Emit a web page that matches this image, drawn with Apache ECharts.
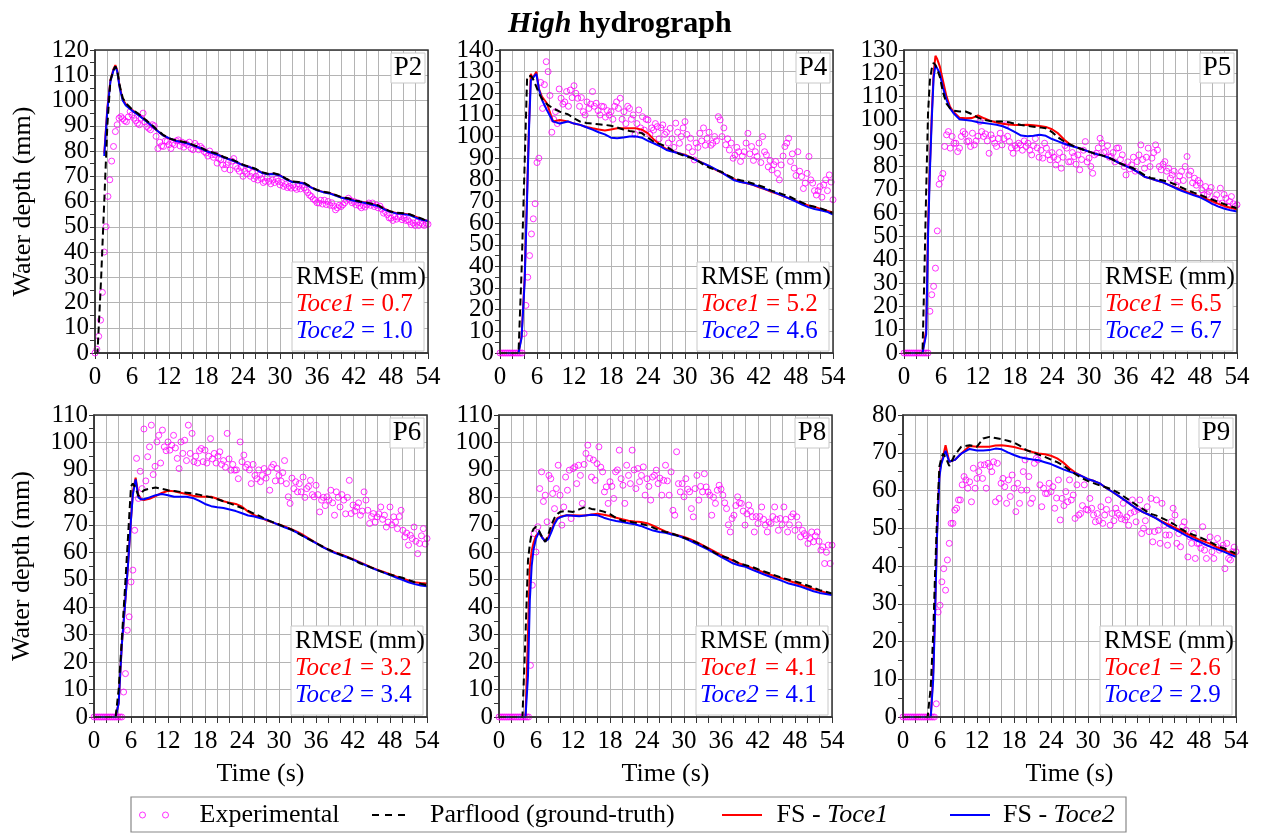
<!DOCTYPE html>
<html><head><meta charset="utf-8">
<script src="https://cdn.jsdelivr.net/npm/echarts@6/dist/echarts.min.js"></script>
<style>html,body{margin:0;padding:0;background:#fff}#c{width:1261px;height:834px}</style>
</head><body><div id="c"></div>
<script>
// ---------- DATA ----------
const panelLabels = ['P2','P4','P5','P6','P8','P9'];
const yMaxes = [120,140,130,110,110,80];
const yTickStep = 10;
const rmseToce1 = ['0.7','5.2','6.5','3.2','4.1','2.6'];
const rmseToce2 = ['1.0','4.6','6.7','3.4','4.1','2.9'];

// sampling times of the experimental gauges (s)
const expTime = [0,0.3,0.6,0.9,1.2,1.5,1.8,2.1,2.4,2.7,3,3.3,3.6,3.9,4.2,4.5,4.8,5.1,5.4,5.7,6,6.3,6.6,6.9,7.2,7.5,7.8,8.1,8.4,8.7,9,9.3,9.6,9.9,10.2,10.5,10.8,11.1,11.4,11.7,12,12.3,12.6,12.9,13.2,13.5,13.8,14.1,14.4,14.7,15,15.3,15.6,15.9,16.2,16.5,16.8,17.1,17.4,17.7,18,18.3,18.6,18.9,19.2,19.5,19.8,20.1,20.4,20.7,21,21.3,21.6,21.9,22.2,22.5,22.8,23.1,23.4,23.7,24,24.3,24.6,24.9,25.2,25.5,25.8,26.1,26.4,26.7,27,27.3,27.6,27.9,28.2,28.5,28.8,29.1,29.4,29.7,30,30.3,30.6,30.9,31.2,31.5,31.8,32.1,32.4,32.7,33,33.3,33.6,33.9,34.2,34.5,34.8,35.1,35.4,35.7,36,36.3,36.6,36.9,37.2,37.5,37.8,38.1,38.4,38.7,39,39.3,39.6,39.9,40.2,40.5,40.8,41.1,41.4,41.7,42,42.3,42.6,42.9,43.2,43.5,43.8,44.1,44.4,44.7,45,45.3,45.6,45.9,46.2,46.5,46.8,47.1,47.4,47.7,48,48.3,48.6,48.9,49.2,49.5,49.8,50.1,50.4,50.7,51,51.3,51.6,51.9,52.2,52.5,52.8,53.1,53.4,53.7,54];

const expP2 = [0,1.5,6.6,13,24,40,50,62,68.6,76,
81.8,87.7,90.4,93,93.6,92.8,92,91.6,93.5,95.6,
94.3,93,92,91,90.4,93,95,91.5,89.7,89,
88.4,90.4,90,85.8,81,83.5,82,81.8,84,83.8,
82.5,81,83,82.5,84,84.4,82,83.5,81.5,83,
82.4,83.5,81,80.5,83,82,80.5,81.8,81,79.8,
79.2,78,80,78.5,77.5,78.5,75.2,77,76.5,74.5,
73,74.5,75.5,72.5,76,77,74,73,72,73.5,
70,72,71,73,70,71.5,69,70,68.5,70.5,
69,67.5,68,69.5,68,67,68.5,67.5,69,68,
66.6,67.5,66,66.8,65.5,66,65.3,66.5,65.5,64.8,
66,65,66.5,65.5,64.5,63.5,62.5,62,61,60.5,
59.5,59.4,60.5,59,60.5,58.8,60,58.5,59.5,58.2,
56.7,57.5,58.5,58,58.7,59.5,60.5,61.3,60.5,59.5,
60,58.7,59.5,58.2,57.5,58.5,57.8,58.8,59.4,58.5,
59.4,58,58.6,57.5,58.2,57,55.4,56,54.8,53.5,
53.4,52.5,54,53,53.8,54,52.8,53.5,52.5,52.8,
52,50.8,51.5,50.5,51.8,50.5,51.5,51,50.5,51.5,
51];
const expP4 = [0,0,0,0,0,0,0,0,0,0,
0,0,0,9,22,35,45,55,62,69,
88,90,125,113,124,134.6,130,119,102,108,
111.5,106,122,117.7,115,116,120.8,114,121.5,118,
123.5,120,117.7,114,118,111.5,110,116,113,115,
120.8,114,115.4,112,110,114,113.8,109,112,110,
111.5,108,114,116,113,117.7,108,111.5,106,114,
113,108,110,101,106,112.3,104,109.2,103,108,
107.7,101,104,103,106,104.6,99,104,105.4,101,
102,97,103.8,99,95,106.2,102,96.9,100,104,
106.9,101,95,99.2,93,89.2,97,95,101.5,98,
104,96,99.2,102,96,96.9,100,98,109.2,107.7,
100,104,96.2,99,93.8,97,90,91.5,95,93,
88.5,91,93,97,101.5,92,95.4,89,93,90.8,
97,88,100,93,91.5,86,89,84.6,87,88.5,
83,80,86.9,91,95.4,97,99.2,88.5,92,85.4,
82,93,84,81.5,76,78.5,83,90.8,80,78.5,
75,73,75,76.9,72,77.7,80,75,82.3,79,
70.8];
const expP5 = [0,0,0,0,0,0,0,0,0,0,
0,0,0,0,17.9,25,28.6,36.4,52.4,72.4,
75,77,88.6,93.6,95,87.9,92.9,90,90,86.4,
87.9,92.9,95,94,90.7,91,88.6,94.3,89.3,91,
93,99.3,95,92.9,94,91,85.7,93.6,92,90,
88.6,92,94.3,89.3,92,97.9,93,90.7,88,85.7,
89,87.9,90,89.3,87,91,88.6,90,87,85,
89,92,88,84,87,83.6,90,87.9,85,82.9,
86,84,80.7,83,86,79.3,84,89,87.9,82,
82.1,86,84.3,81,85,78.6,83,87,90.7,82,
83.6,80,77.1,85,85.7,88,92.1,90,86,86.4,
89,84,84.3,86,82,87.9,88,83,85,80,
76.4,82,79,80.7,84,78,82.1,85,89.3,83,
79.3,84,87.9,80,83.6,86,89.3,87.1,80,78.6,
81,82.1,78,79.3,75,76.4,78,72,73.6,76,
77.9,74,80,84.3,76.4,78,73,75,72,74,
72.9,70,67.9,71.4,68,69.3,71,65,66,67.9,
64,70.7,64.3,68,66.4,63,65,67.1,64,62.9,
63.6];
const expP6 = [0,0,0,0,0,0,0,0,0,0,
0,0,0,0,0,0,9.1,15.8,31.6,36.5,
49.2,53.5,68,94.2,79.6,89.5,83.2,104.9,86,94.8,
98.4,106.3,88.3,91.3,100.2,102.6,92.5,104.5,98.4,97,
100.2,97.2,99,102.6,98,94.2,90.5,100.2,96,100.8,
93.4,106.3,96,103.3,93,95,92.5,97,97.8,93,
97.2,92.5,95,101.4,94,96,92.5,95,96.6,92,
93.4,91,103.3,94,89.9,92,89.9,90,86.8,100.2,
93,95.4,91,92,90,85,92,88,86.8,90,
85.7,88,90.5,87,89.3,82.6,91,92,86,90.5,
88,86,89,93.4,85,80.2,77.8,87,83.2,85.7,
82,85,82,87.4,80,83.2,84,86.2,81,80.2,
84.4,81,74.7,79,80,77,80.2,79,82.6,78,
73.5,82,80,76.5,81,79,74,80,86.2,74.1,
77.2,75,76.5,78,73.5,75,82,79,75.3,70.5,
73,74.1,71,72.9,74,76.5,72,73.5,69.2,71,
76.5,70,72.9,71,68.6,73,75.3,68,65.6,67,
62.6,66.2,65,69.2,64,59.5,63.2,66,68.6,63,
65];
const expP8 = [0,0,0,0,0,0,0,0,0,0,
0,0,0,0,0,0,0,18.8,48,66.8,
60.1,69.3,83.2,89.3,78.5,80.8,71.1,88,86.8,81.4,
75.9,83.2,91.7,80.8,69.9,76.5,87.4,82.6,89.9,72.3,
90.5,91.1,85,91.7,88,77.8,92,96,99,94.2,
87.4,93.6,86.2,92.3,98.4,91,89.3,82,83.8,77.8,
85.7,84,79.6,89.3,90,97.2,86.8,84.4,77.8,91.7,
88,85,97.2,90,83.2,90.5,85.7,88,91.1,80.8,
86.8,84,79,87.4,88,89.9,85,87,80.8,86.2,
91.7,86,80.8,89.3,75.3,73.5,96.6,85,82,85,
80.2,86.8,83,82,75.9,72.9,83.2,88,79,84,
82,88.6,83.8,82,80.8,73.5,80,77.8,82.6,84.4,
83,80.8,78,75.9,70,67.4,72.3,73.5,77,80.2,
78,77.8,75,69.9,74,77.2,75,72.9,67.4,73,
70.5,73,76.5,72,69.9,67.4,71,70.5,73,76.5,
72,68,72.3,70,76.5,72,67.4,70,72.9,74,
68,72.9,70,65.6,68,66.8,66,63.2,65,67.4,
63.8,66,67.4,64,60.8,62,55.9,60,62.6,55.9,
62.6];
const expP9 = [0,0,0,0,0,0,0,0,0,0,
0,0,0,0,0,0,0,0,3.5,27.8,
29.6,35.8,39.3,33.6,41.6,46,51.3,51.3,54.8,55.3,
57.5,57.5,61.5,63.7,62.8,60.6,62.3,57,65.9,60.6,
63.2,65,66.8,63.2,66.8,60.6,67.2,66.3,65,67.6,
57,67.2,57.9,61.9,63.2,61,56.6,62.8,58.4,64.1,
60.6,54.4,61.9,56.6,60.1,65,68.1,60.1,63.7,56.6,
57.9,67.2,68.5,68.1,61.5,55.7,60.6,59.2,59.2,61.9,
59.7,61,55.3,58,62.8,52.2,57.9,56,59.7,57,
62.8,57.5,58.8,52.6,61.5,53.5,53.9,56,61.5,55,
54.8,57.9,55.3,53.5,51.7,53.9,52,55.7,51.3,53.5,
55,57.5,50.8,53.9,52,55.3,54,53.5,52.5,56.6,
52.2,53,50.8,54,57.5,54.4,51.7,55,57.5,48.6,
50,52,55.7,49.1,57.9,46.4,49.1,57.5,49.5,46,
56.6,50.8,48.2,45.5,48.2,51.7,55.3,53.5,46,48.6,
45.1,50.4,51.7,49.5,42.4,47.7,46,48.6,42,46,
46,44.7,50.4,44.2,42,46,47.7,43.8,42,45.5,
47.3,44.2,44.7,45.5,39.3,46,42,41.6,43.8,45,
43.8];

// model output times and depths (mm)
const timeP2 = [0,0.4,0.7,1,1.5,2,2.5,3,3.3,3.6,4,4.5,5,6,7,8,9,10,11,12,13,14,15,16,17,18,19,20,21,22,23,24,25,26,27,28,29,30,31,32,33,34,35,36,37,38,39,40,41,42,43,44,45,46,47,48,49,50,51,52,53,54];
const parP2 = [0,0,15,30,60,90,108,112,113.5,112,106,101,99,96.5,94.8,92.8,90.8,88.5,86.5,85,84.3,83.8,83.3,82.3,81.5,80.3,79.5,78.8,77.5,76.8,75.8,74.6,73.8,73,71.7,71,71.2,70.6,69,67.9,67.7,67.3,65.8,64.6,63.9,63.5,62.6,61.7,61.3,60.5,60,59.6,59,58.4,57,56,55.5,55.3,55,54,53.2,52];
const toce1P2 = [null,null,null,null,79,97,108,112.5,114,112,105.5,100.5,98.5,96.3,94.5,92.5,90.5,88.2,86.3,85,84.2,83.8,83.1,82.2,81.2,80.1,79.3,78.6,77.4,76.6,75.6,74.4,73.6,72.8,71.5,70.9,71,70.4,68.9,67.8,67.6,67.1,65.7,64.5,63.8,63.4,62.5,61.6,61.2,60.4,59.9,59.5,58.9,58.3,57,56,55.4,55.2,54.9,54,53,52.2];
const toce2P2 = [null,null,null,null,78,96,107.5,112,113.5,111.5,105,100,98,96,94.3,92.4,90.4,88.2,86.2,85.1,84.1,83.6,83,82.1,81.2,80,79.2,78.4,77.3,76.5,75.5,74.3,73.6,72.8,71.4,70.8,70.9,70.3,68.8,67.7,67.5,67,65.6,64.4,63.7,63.2,62.4,61.5,61,60.3,59.8,59.3,58.7,58.1,56.8,55.8,55.2,55,54.6,53.6,52.8,52.3];

const timeP4 = [0,1,2,3,3.5,4,4.4,4.7,5,5.3,5.6,5.9,6.3,6.8,7.6,8.6,9.7,11,12,13,14,15,16,17,18,19,20,21,22,23,24,25,26,27,28,29,30,31,32,33,34,35,36,37,38,39,40,41,42,43,44,45,46,47,48,49,50,51,52,53,54];
const parP4 = [0,0,0,0,38,88,127.7,128,128,127,125,123,120,117.5,115,113,111.5,110.3,108.5,106.9,106.3,106,105.7,105.4,105,104.2,103.3,102.6,102.2,101.6,99.5,97.5,96.5,95.4,93.5,92,91,90.2,89,87,85.6,84.6,83.6,82,80.5,79.8,79.2,78.3,77.4,76.4,75,74.2,73.2,72.2,70.8,69.5,68.2,67.6,66.8,65.8,64.6];
const toce1P4 = [0,0,0,0,8,35,75,105,129,127,128.5,130,122,118.5,115.4,107,107.7,107,106,105.4,104.4,103.8,103.3,102.8,103.3,103.8,103.8,103.8,103.8,103.2,101.5,98.5,96,94.2,93.2,92.3,91.6,90.3,89,87.6,86.2,84.6,83.2,81.8,80.3,79.1,78.4,77.7,76.6,75.6,74.5,73.5,72.4,71.3,70.3,69.2,68.2,67.5,66.6,65.8,64.9];
const toce2P4 = [0,0,0,0,7,33,72,103,126,126.5,128,129,122,117,112.3,107,106,107,106,105.4,104.3,103.2,102,101,99.5,99.2,99.6,100,100.1,99.5,98,96.8,95.5,93.8,93,92.3,91.3,90.3,88.8,87.6,86.3,84.8,83.3,81.5,79.8,79,78.5,77.7,76.9,75.8,74.8,73.7,72.5,71.2,70,68.6,67.4,66.5,66,65.3,64];

const timeP5 = [0,1,2,3,3.3,3.6,3.9,4.2,4.5,4.8,5.1,5.4,5.8,6.3,6.9,7.45,8,9,10,11,12,13,14,15,16,17,18,19,20,21,22,23,24,25,26,27,28,29,30,31,32,33,34,35,36,37,38,39,40,41,42,43,44,45,46,47,48,49,50,51,52,53,54];
const parP5 = [0,0,0,0,33,70,103,117,122,124.5,123.5,121.5,118.6,112,107,105,104,103.6,103.6,102.5,101,100,99.5,99.3,99.3,99,98.4,97.8,97.4,97.1,96.8,96.4,94.8,92.5,90.7,89.4,88.2,87.3,86.4,85.5,84.9,84.1,82.8,81.4,80.4,79.5,78,76.3,75.1,74.6,74,73.3,72.3,71,69.8,68.8,67.9,66.8,65.8,64.8,63.8,62.9,62.1];
const toce1P5 = [0,0,0,0,0,10,55,80,102,120,127.5,126,123,117,110,105.7,103.5,100.9,100.7,100.8,101.9,100.7,99.6,98.9,98.4,98,97.8,97.8,97.9,97.7,97.4,97,96,94.2,91.5,89.3,88.2,87.3,86.4,85.5,84.8,84,82.8,81.4,80.2,79,77.5,75.6,74.8,74,73.2,72,71,70,69,68,67.1,66.1,65.1,64,63,62.3,61.7];
const toce2P5 = [0,0,0,0,0,8,50,78,100,118,123.5,123,120,114,108.6,105,103,100.3,100,99.6,99,98.7,98.3,97.9,97.3,96.2,94.8,93.3,93,93.2,93.6,93.2,91.8,90.8,89.8,88.9,88.2,87.3,86.4,85.5,84.8,84,82.8,81.4,80.2,79,77.5,75.6,74.8,74,73.2,72,70.8,69.6,68.6,67.7,66.8,65.5,64,62.8,61.9,61.2,60.7];

const timeP6 = [0,1,2,3,3.5,4,4.5,5,5.5,6,6.3,6.75,7.2,7.6,8.1,9,10,11,12,13,14,15,16,17,18,19,20,21,22,23,24,25,26,27,28,29,30,31,32,33,34,35,36,37,38,39,40,41,42,43,44,45,46,47,48,49,50,51,52,53,54];
const parP6 = [0,0,0,0,0,10,28,46,65,84,85,83.5,80.5,81.5,82.6,83.2,83.6,83.1,82.6,82.3,82,81.7,81.4,81,80.5,80,79.3,78.6,77.8,77,76.1,75.1,74,73.1,71.8,71,70.1,69.2,68.3,67,65.8,64.6,63.3,62.2,61,60,59.1,58.3,57.3,56.1,55.3,54.4,53.5,52.6,51.9,51.3,50.7,49.9,49.1,48.5,48];
const toce1P6 = [0,0,0,0,0,5,26,40,55,72,82,87.2,81,79.3,79,79.5,80.5,81.6,82.4,82.2,81.7,81.2,80.6,80.3,80.2,80.2,79.5,78.6,78,77.6,76.6,74.8,73.5,72.6,71.6,70.8,70.1,69.3,68.4,67.4,66.2,64.8,63.4,62.1,61,60,59.3,58.4,57.5,56.5,55.5,54.5,53.6,52.8,52,51.2,50.5,49.7,49.1,48.8,48.6];
const toce2P6 = [0,0,0,0,0,5,26,40,55,72,81,86.5,80,79.3,79.3,80,80.8,81.2,80.8,80.2,80.2,80.2,79.8,78.8,77.6,76.8,76.4,76.1,75.6,75,74.2,73.4,73,72.4,71.9,70.9,69.9,69,68.2,67.1,65.8,64.5,63.3,62,60.9,59.8,59,58.2,57.3,56.3,55.3,54.3,53.4,52.6,51.7,50.8,50,49.1,48.4,47.9,47.6];

const timeP8 = [0,1,2,3,3.8,4.3,4.7,5,5.3,5.6,6,6.5,7,7.5,8,8.5,9,9.5,10,11,12,13,14,15,16,17,18,19,20,21,22,23,24,25,26,27,28,29,30,31,32,33,34,35,36,37,38,39,40,41,42,43,44,45,46,47,48,49,50,51,52,53,54];
const parP8 = [0,0,0,0,0,30,57,63,67,68.5,69.3,67.8,65.5,63.8,66.5,70,72.5,74,74.8,75,74.7,75.6,76.5,75.8,75.4,74.8,73.9,72.5,71.5,71.2,70.8,70.4,69.8,69,68,67.4,66.9,66,65.3,64.5,63.6,62.5,61.2,59.8,58.7,58,57.1,55.9,55.3,54.7,53.8,53,52.2,51.4,50.6,50,49.4,48.7,47.9,47.1,46.2,45.6,45];
const toce1P8 = [0,0,0,0,0,0,30,54.7,60.5,63.5,66,67,65.5,64,65.5,68,71,72.5,73,73.5,73.5,73.4,73.4,73.8,74,73.7,73.2,72.6,72,71.5,71.2,71,70.6,69.7,68.6,67.6,66.8,66.2,65.6,64.8,63.8,62.6,61.4,60.2,59,57.9,56.9,55.9,55.1,54.3,53.5,52.6,51.8,51.1,50.4,49.6,48.9,48.1,47.3,46.6,46,45.3,44.6];
const toce2P8 = [0,0,0,0,0,0,15,42.5,55,61,65,67.5,65.3,64,64.8,67.4,70.3,72.2,72.8,73.5,73.3,73.1,73.4,73.7,73.5,72.6,71.9,71.4,71,70.6,70.2,69.6,68.7,67.9,67.4,67.1,66.5,66,65.2,64.2,63.1,62,60.9,59.6,58.3,57.1,55.9,55.2,54.7,53.7,52.8,51.9,51.1,50.3,49.5,48.6,48.1,47.4,46.6,45.8,45.2,44.8,44.4];

const timeP9 = [0,1,2,3,4,4.5,4.9,5.2,5.5,5.9,6.2,6.5,6.9,7.5,8.4,9.45,10.8,12,13,14,15,16,17,18,19,20,21,22,23,24,25,26,27,28,29,30,31,32,33,34,35,36,37,38,39,40,41,42,43,44,45,46,47,48,49,50,51,52,53,54];
const parP9 = [0,0,0,0,0,8,22,38,52,66.3,68.5,69.8,68.8,66.5,69.4,71.6,72,71.6,73.8,74.2,73.9,73.6,73.2,72.7,71.8,70.7,70.1,69.5,68.9,68.2,67.5,66.6,65.4,64.3,63.3,62.5,61.9,61.3,60.8,60.2,59.3,58.2,57.1,56,55,53.9,53.4,52.7,51.9,51,49.9,49,48.3,47.7,47,46.2,45.3,44.7,44,43.3];
const toce1P9 = [0,0,0,0,0,0,12,28,48,64.5,67.5,69,72,67.6,68.1,69.8,71.8,71.6,71.6,71.6,71.9,72,71.8,71.5,71.1,70.7,70.2,69.8,69.6,69.2,68.5,67.4,65.9,64.7,63.8,63,62.5,61.8,60.6,59.6,58.5,57.4,56.2,55.1,54.2,53.5,52.7,51.8,51,50.2,49.4,48.6,47.8,47,46.4,45.8,44.9,44.2,43.6,42.9];
const toce2P9 = [0,0,0,0,0,0,10,27,47,63.5,67,68.5,70.5,67.6,68.1,69.8,71,70.6,70.6,70.7,71.1,70.9,70.1,69.4,68.8,68.5,68.2,68,67.5,67,66.3,65.6,65,64.5,63.8,63,62.5,61.8,60.6,59.6,58.5,57.4,56.2,55.1,54.2,53.5,52.7,51.6,50.6,49.8,48.9,48,47.2,46.5,45.7,45,44.4,43.8,43.1,42.4];

// ---------- CHART ----------
const FONT = 'Liberation Serif';
const W = 333;
const boxes = [[95,50,303],[500,50,303],[904,50,303],[94,415,302],[499,415,302],[903,415,302]];
const panels = [
  {time: timeP2, par: parP2, t1: toce1P2, t2: toce2P2, exp: expP2},
  {time: timeP4, par: parP4, t1: toce1P4, t2: toce2P4, exp: expP4},
  {time: timeP5, par: parP5, t1: toce1P5, t2: toce2P5, exp: expP5},
  {time: timeP6, par: parP6, t1: toce1P6, t2: toce2P6, exp: expP6},
  {time: timeP8, par: parP8, t1: toce1P8, t2: toce2P8, exp: expP8},
  {time: timeP9, par: parP9, t1: toce1P9, t2: toce2P9, exp: expP9}
];
const N_EXP = 'Experimental', N_PAR = 'Parflood (ground-truth)', N_T1 = 'FS - Toce1', N_T2 = 'FS - Toce2';
const MAG = '#ff00ff';
const gridColor = '#b4b4b4';
const axisColor = '#333';

const grid = [], xAxis = [], yAxis = [], series = [], graphic = [];
panels.forEach((p, i) => {
  const b = boxes[i];
  grid.push({left: b[0], top: b[1], width: W, height: b[2]});
  xAxis.push({
    gridIndex: i, type: 'value', min: 0, max: 54, interval: 6,
    axisLine: {show: true, onZero: false, lineStyle: {color: axisColor, width: 1.5}},
    axisTick: {show: true, length: 6, lineStyle: {color: axisColor}},
    minorTick: {show: true, splitNumber: 3, length: 6, lineStyle: {color: axisColor}},
    splitLine: {show: true, lineStyle: {color: gridColor, width: 1}},
    minorSplitLine: {show: true, lineStyle: {color: gridColor, width: 1}},
    axisLabel: {fontFamily: FONT, fontSize: 25, color: '#000', margin: 12,
      showMinLabel: true, showMaxLabel: true, hideOverlap: false},
    name: i >= 3 ? 'Time (s)' : '', nameLocation: 'middle', nameGap: 44,
    nameTextStyle: {fontFamily: FONT, fontSize: 26, color: '#000'}
  });
  yAxis.push({
    gridIndex: i, type: 'value', min: 0, max: yMaxes[i], interval: yTickStep,
    axisLine: {show: true, onZero: false, lineStyle: {color: axisColor, width: 1.5}},
    axisTick: {show: true, length: 5, lineStyle: {color: axisColor}},
    minorTick: {show: true, splitNumber: 2, length: 5, lineStyle: {color: axisColor}},
    splitLine: {show: true, lineStyle: {color: gridColor, width: 1}},
    axisLabel: {show: false},
    name: i % 3 === 0 ? 'Water depth (mm)' : '', nameLocation: 'middle', nameGap: 59,
    nameTextStyle: {fontFamily: FONT, fontSize: 26, color: '#000'}
  });
  series.push({
    type: 'scatter', name: N_EXP, xAxisIndex: i, yAxisIndex: i,
    data: expTime.map((t, k) => [t, p.exp[k]]),
    symbol: 'circle', symbolSize: 6,
    itemStyle: {color: 'rgba(0,0,0,0)', borderColor: MAG, borderWidth: 1},
    silent: true, z: 2
  });
  const mk = (name, arr, color, type) => ({
    type: 'line', name, xAxisIndex: i, yAxisIndex: i,
    data: p.time.map((t, k) => [t, arr[k]]),
    symbol: 'none', showSymbol: false, connectNulls: false,
    lineStyle: {color, width: 2, type}, itemStyle: {color}, silent: true, z: 3
  });
  series.push(mk(N_T1, p.t1, '#ff0000', 'solid'));
  series.push(mk(N_T2, p.t2, '#0000ff', 'solid'));
  series.push(mk(N_PAR, p.par, '#000000', [7, 4]));

  const right = b[0] + W, bottom = b[1] + b[2];
  graphic.push({type: 'rect', silent: true, z: 60,
    shape: {x: b[0], y: b[1], width: W, height: b[2]},
    style: {fill: 'none', stroke: axisColor, lineWidth: 1.5}});
  graphic.push({type: 'rect', silent: true, z: 61,
    shape: {x: right - 37, y: b[1] + 3, width: 34, height: 30},
    style: {fill: '#fff', stroke: '#c8c8c8', lineWidth: 1}});
  graphic.push({type: 'text', silent: true, z: 62, x: right - 20, y: b[1] + 18,
    style: {text: panelLabels[i], fontFamily: FONT, fontSize: 27, fill: '#000', align: 'center', verticalAlign: 'middle'}});
  graphic.push({type: 'rect', silent: true, z: 61,
    shape: {x: right - 136, y: bottom - 91, width: 132, height: 89},
    style: {fill: '#fff', stroke: '#c8c8c8', lineWidth: 1}});
  const rs = (c, it) => ({fill: c, fontStyle: it ? 'italic' : 'normal', fontSize: 25, fontFamily: FONT, lineHeight: 27});
  graphic.push({type: 'text', silent: true, z: 62, x: right - 132, y: bottom - 89,
    style: {
      text: '{k|RMSE (mm)}\n{ri|Toce1}{r| = ' + rmseToce1[i] + '}\n{bi|Toce2}{b| = ' + rmseToce2[i] + '}',
      fontFamily: FONT, fontSize: 25, fill: '#000', align: 'left', verticalAlign: 'top',
      rich: {k: rs('#000', false), ri: rs('#ff0000', true), r: rs('#ff0000', false), bi: rs('#0000ff', true), b: rs('#0000ff', false)}
    }});
});

// legend frame
graphic.push({type: 'rect', silent: true, z: 0,
  shape: {x: 131, y: 797, width: 995, height: 35},
  style: {fill: '#fff', stroke: '#888', lineWidth: 1.2}});

const legTxt = (pad) => ({fontFamily: FONT, fontSize: 26, color: '#000', padding: [0, 0, 0, pad],
  rich: {i: {fontFamily: FONT, fontSize: 26, color: '#000', fontStyle: 'italic'}}});
const legFmt = n => n.replace(/(Toce\d)/, '{i|$1}');
const legendBase = {top: 802, padding: 0, selectedMode: false, formatter: legFmt};
const DASH_ICON = 'path://M0,0H7V2H0ZM13,0H20V2H13ZM26,0H33V2H26Z';
const LINE_ICON = 'path://M0,0H40V2H0Z';
const legend = [
  Object.assign({}, legendBase, {left: 139, itemWidth: 29, itemHeight: 6, textStyle: legTxt(26),
    data: [{name: N_EXP, icon: 'path://M0,3A3,3,0,1,1,6,3A3,3,0,1,1,0,3ZM23,3A3,3,0,1,1,29,3A3,3,0,1,1,23,3Z',
      itemStyle: {color: 'rgba(0,0,0,0)', borderColor: MAG, borderWidth: 1}}]}),
  Object.assign({}, legendBase, {left: 372, itemWidth: 33, itemHeight: 2, textStyle: legTxt(20),
    data: [{name: N_PAR, icon: DASH_ICON, itemStyle: {color: '#000', borderWidth: 0}}]}),
  Object.assign({}, legendBase, {left: 722, itemWidth: 43, itemHeight: 2, textStyle: legTxt(8),
    data: [{name: N_T1, icon: LINE_ICON, itemStyle: {color: '#ff0000', borderWidth: 0}}]}),
  Object.assign({}, legendBase, {left: 950, itemWidth: 40, itemHeight: 2, textStyle: legTxt(8),
    data: [{name: N_T2, icon: LINE_ICON, itemStyle: {color: '#0000ff', borderWidth: 0}}]})
];

const chart = echarts.init(document.getElementById('c'), null, {renderer: 'canvas'});
chart.setOption({
  animation: false,
  backgroundColor: '#fff',
  title: {text: '{i|High} hydrograph', left: 503, top: 4,
    textStyle: {fontFamily: FONT, fontSize: 30, fontWeight: 'bold', color: '#000',
      rich: {i: {fontFamily: FONT, fontSize: 30, fontWeight: 'bold', fontStyle: 'italic', color: '#000'}}}},
  grid, xAxis, yAxis, series, graphic, legend
});

// y tick labels: every tick is labelled (the reference shows all of them, even when crowded),
// placed through the y axis scale of each panel
const yLabels = [];
panels.forEach((p, i) => {
  for (let v = 0; v <= yMaxes[i]; v += yTickStep) {
    const py = chart.convertToPixel({yAxisIndex: i}, v);
    yLabels.push({type: 'text', silent: true, z: 5, x: boxes[i][0] - 6, y: py,
      style: {text: String(v), fontFamily: FONT, fontSize: 25, fill: '#000', align: 'right', verticalAlign: 'middle'}});
  }
});
chart.setOption({graphic: graphic.concat(yLabels)});
</script></body></html>
